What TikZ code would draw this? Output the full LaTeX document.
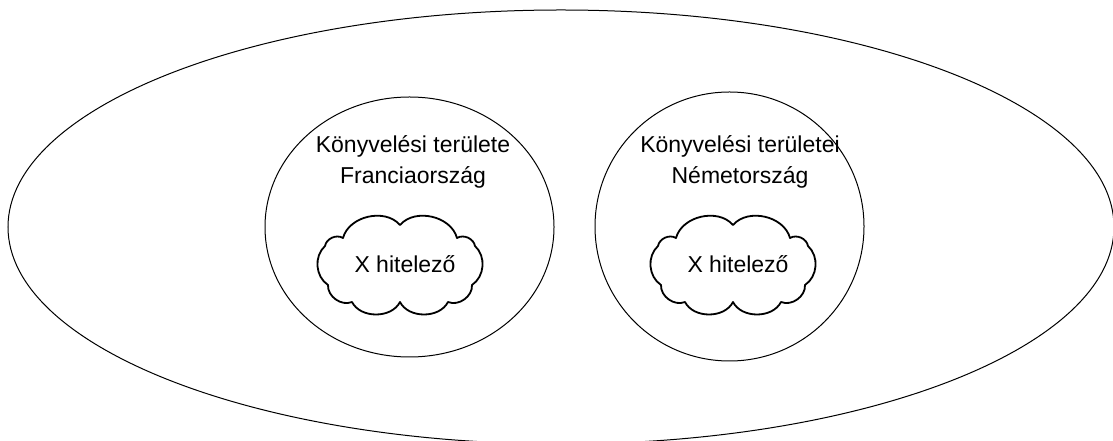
\documentclass[tikz,border=0pt]{standalone}
\usepackage{fontspec}
\setmainfont{Liberation Sans}
\usetikzlibrary{shapes.geometric}

\begin{document}
\begin{tikzpicture}[x=1pt, y=1pt,
  set/.style={ellipse, draw=black, line width=1pt, inner sep=0pt},
  lbl/.style={font=\fontsize{23}{31}\selectfont, align=center, inner sep=0pt},
  cloudline/.style={draw=black, line width=1.8pt, line join=round},
  hitelezo/.pic={
    \draw[cloudline] (0,41) to[bend left=62] (57,28) to[bend left=55] (75,20)
      to[bend left=52] (72,-19) to[bend left=58] (48,-36) to[bend left=63] (0,-36)
      to[bend left=63] (-48,-36) to[bend left=58] (-72,-19) to[bend left=52] (-75,20)
      to[bend left=55] (-57,28) to[bend left=62] (0,41) -- cycle;
  },
]
\fill[white] (0,0) rectangle (1113,441);
\useasboundingbox (0,0) rectangle (1113,441);
\clip (0,0) rectangle (1113,441);
% ---------------------------------------------------------------- outer set
\node[set, minimum width=1106pt, minimum height=434pt] (group) at (561,214) {};
% ---------------------------------------------------------------- areas
\node[set, minimum width=289pt, minimum height=260pt] (areaFR) at (409.5,214) {};
\node[set, minimum width=269pt, minimum height=269pt] (areaDE) at (729.5,214.5) {};
\node[lbl, anchor=north] (labFR) at (413,306) {Könyvelési területe\\Franciaország};
\node[lbl, anchor=north] (labDE) at (740,306) {Könyvelési területei\\Németország};
% ---------------------------------------------------------------- creditors
\pic (cloudFR) at (400,175) {hitelezo};
\pic (cloudDE) at (733,175) {hitelezo};
\node[lbl, anchor=base] (credFR) at (405,168) {X hitelező};
\node[lbl, anchor=base] (credDE) at (738,168) {X hitelező};
\end{tikzpicture}
\end{document}
